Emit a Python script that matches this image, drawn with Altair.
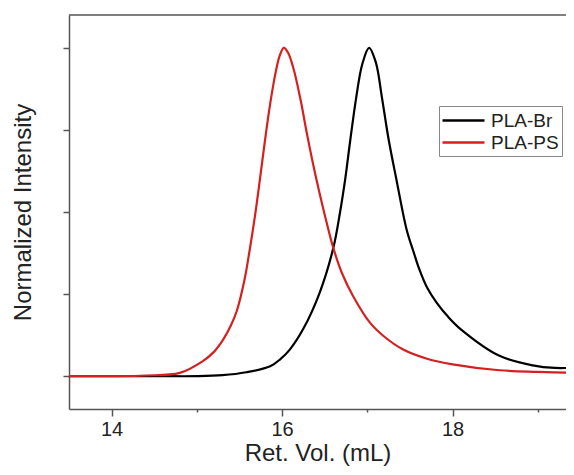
import altair as alt
import pandas as pd

# PLA-Br (black) trace
br_x = [13.5, 14.5, 15.0, 15.3, 15.58, 15.86, 15.98, 16.09, 16.25, 16.44, 16.60, 16.68, 16.74,
        16.80, 16.87, 16.94, 17.02, 17.10, 17.17, 17.25, 17.34, 17.46, 17.54, 17.61, 17.70,
        17.81, 17.95, 18.1, 18.55, 18.94, 19.2, 19.45]
br_y = [0.0, 0.0, 0.0, 0.003, 0.012, 0.030, 0.052, 0.081, 0.145, 0.254, 0.39, 0.50, 0.60,
        0.72, 0.85, 0.95, 1.0, 0.955, 0.85, 0.72, 0.60, 0.447, 0.38, 0.325, 0.27,
        0.225, 0.18, 0.142, 0.062, 0.033, 0.025, 0.026]

# PLA-PS (red) trace
ps_x = [13.5, 14.0, 14.4, 14.8, 15.07, 15.2, 15.31, 15.40, 15.47, 15.56, 15.62, 15.68, 15.74,
        15.80, 15.86, 15.92, 15.97, 16.02, 16.07, 16.13, 16.21, 16.29, 16.36, 16.44, 16.52,
        16.60, 16.70, 16.83, 17.03, 17.2, 17.42, 17.7, 18.0, 18.55, 19.0, 19.45]
ps_y = [0.0, 0.0, 0.002, 0.010, 0.046, 0.074, 0.112, 0.155, 0.20, 0.295, 0.385, 0.485, 0.60,
        0.72, 0.83, 0.92, 0.975, 1.0, 0.985, 0.94, 0.85, 0.74, 0.65, 0.556, 0.47,
        0.391, 0.315, 0.245, 0.163, 0.12, 0.081, 0.053, 0.036, 0.018, 0.013, 0.01]

series_names = ["PLA-Br", "PLA-PS"]
series_colors = ["#000000", "#d42020"]

x_ticks = [14, 15, 16, 17, 18, 19]
y_ticks = [0, 0.25, 0.5, 0.75, 1.0]

df = pd.concat([
    pd.DataFrame({"vol": br_x, "val": br_y, "series": series_names[0], "order": range(len(br_x))}),
    pd.DataFrame({"vol": ps_x, "val": ps_y, "series": series_names[1], "order": range(len(ps_x))}),
])

FONT = "Liberation Sans"
AX = "#555555"
TXT = "#222222"

lines = alt.Chart(df).mark_line(clip=True, strokeWidth=2.2, interpolate="catmull-rom").encode(
    x=alt.X("vol:Q",
            scale=alt.Scale(domain=[13.5, 19.33], nice=False, zero=False),
            axis=alt.Axis(
                title="Ret. Vol. (mL)", values=x_ticks, grid=False,
                labelExpr="datum.value % 2 == 0 ? datum.label : ''",
                tickSize={"condition": {"test": "datum.value % 2 == 0", "value": 7}, "value": 3},
                labelFontSize=20, labelFont=FONT, labelColor=TXT, labelPadding=3,
                titleFontSize=24, titleFont=FONT, titleFontWeight="normal", titleColor=TXT,
                titlePadding=2, domainColor=AX, tickColor=AX, domainWidth=1.5, tickWidth=1.5,
            )),
    y=alt.Y("val:Q",
            scale=alt.Scale(domain=[-0.1, 1.1], nice=False, zero=False),
            axis=alt.Axis(
                title="Normalized Intensity", values=y_ticks, labels=False, grid=False,
                tickSize=6, titleFontSize=24, titleFont=FONT, titleFontWeight="normal",
                titleColor=TXT, titlePadding=27, domainColor=AX, tickColor=AX,
                domainWidth=1.5, tickWidth=1.5,
            )),
    color=alt.Color("series:N",
                    scale=alt.Scale(domain=series_names, range=series_colors),
                    legend=alt.Legend(
                        title=None, orient="none", legendX=370, legendY=91,
                        symbolType="M-2.1,0H2.1", symbolSize=400, symbolStrokeWidth=2.5,
                        symbolOffset=10, labelOffset=16,
                        labelFontSize=19, labelFont=FONT, labelColor=TXT,
                        strokeColor="#888888", padding=3, rowPadding=0,
                    )),
    order="order:Q",
)

top = alt.Chart(pd.DataFrame({"a": [0]})).mark_rule(color=AX, strokeWidth=1.5).encode(
    x=alt.value(0), x2=alt.value(497), y=alt.value(0)
)

chart = alt.layer(lines, top).properties(
    width=497, height=394,
    padding={"left": 61, "top": 7, "right": 0, "bottom": 58},
    autosize=alt.AutoSizeParams(type="none"),
).configure_view(stroke=None)

chart.save("out.html", embed_options={"renderer": "svg", "actions": False})
